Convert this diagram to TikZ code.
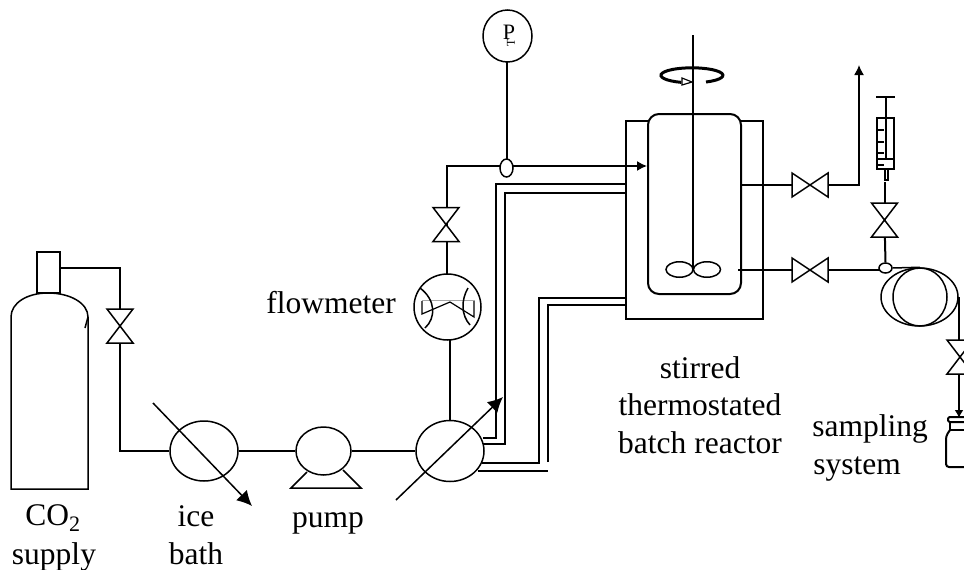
\documentclass[tikz,border=0pt]{standalone}
\usepackage{fontspec}
\setmainfont{Liberation Serif}
\usetikzlibrary{arrows.meta,positioning,calc,shapes.geometric}
\tikzset{
  pipe/.style={draw=black, line width=1.5pt},
  thickpipe/.style={draw=black, line width=2pt},
  flow/.style={-{Latex[length=10pt,width=10pt]}, line width=1.5pt, draw=black},
  bigflow/.style={-{Latex[length=15pt,width=15pt]}, line width=1.5pt, draw=black},
  unitcirc/.style={draw=black, line width=1.5pt, ellipse, inner sep=0pt, fill=white},
  blade/.style={draw=black, line width=1.5pt, ellipse, inner sep=0pt, minimum width=27pt, minimum height=15.5pt},
  lbl/.style={font=\fontsize{31.5}{37}\selectfont, anchor=base, inner sep=0pt}
}
\begin{document}
\begin{tikzpicture}[x=1pt,y=-1pt]
  \useasboundingbox (0,0) rectangle (964,570);
  % gas cylinder
  \node[draw, line width=1.5pt, minimum width=23pt, minimum height=41pt, inner sep=0pt] (neck) at (48.5,272.5) {};
  \draw[pipe] (11,489) -- (11,317) .. controls (11,303) and (27,293) .. (48,293) .. controls (70,293) and (88,303) .. (88,317) -- (88,489) -- cycle;
  \draw[pipe] (88,317) -- (85,328);
  % units along the line
  \node[unitcirc, minimum width=68pt, minimum height=60pt] (ice) at (204,451) {};
  \node[unitcirc, minimum width=55pt, minimum height=48pt] (pump) at (323.5,451) {};
  \node[unitcirc, minimum width=68pt, minimum height=61pt] (heater) at (450,451) {};
  \node[unitcirc, minimum width=67pt, minimum height=66pt] (meter) at (447.5,307) {};
  \node[unitcirc, minimum width=49pt, minimum height=52pt] (gauge) at (507.5,36) {};
  \node[unitcirc, minimum width=13pt, minimum height=18pt] (tap) at (506.5,168) {};
  \node[font=\fontsize{22}{22}\selectfont, inner sep=0pt] (gaugelabel) at (509,32) {P};
  \node[font=\fontsize{12}{12}\selectfont, inner sep=0pt, rotate=90] (gaugemark) at (511,42.5) {T};
  % valves
  \coordinate (vone) at (120,326);
  \coordinate (vtwo) at (446,224.5);
  \coordinate (vthree) at (810,185);
  \coordinate (vfour) at (810,270);
  \coordinate (vfive) at (884.5,220);
  \coordinate (vsix) at (960,357);
  % pipes
  \coordinate (tee) at (120,268);
  \draw[pipe] (neck.east |- tee) -- (tee) -- (vone);
  \draw[pipe] (vone) -- (120,451) -- (ice.west);
  \draw[pipe] (ice.east) -- (pump.west);
  \draw[pipe] (pump.east) -- (heater.west);
  \draw[pipe] (450,421) -- (450,340);
  \draw[pipe] (447,274) -- (447,224);
  \draw[pipe] (447,224) -- (447,166) -- (500,166);
  \draw[pipe] (507,62) -- (507,159);
  \draw[flow] (513,166) -- (647,166);
  % heating jacket lines
  \draw[pipe] (483,438) -- (496,438) -- (496,184) -- (625,184);
  \draw[pipe] (483,444) -- (505,444) -- (505,193) -- (625,193);
  \draw[pipe] (482,463) -- (539,463) -- (539,298) -- (626,298);
  \draw[pipe] (478,471) -- (548,471) (548,462) -- (548,305) -- (625,305);
  % arrows through the exchangers
  \draw[bigflow] (153,403) -- (252,506);
  \draw[bigflow] (396,500) -- (503,397);
  % pump feet
  \draw[pipe] (307,472) -- (291,488) -- (361,488) -- (343,470);
  % flowmeter inside
  \draw[line width=0.5pt, draw=black!35] (422,300.7) -- (475,300.7);
  \draw[line width=1.2pt] (422,301) -- (422,314) -- (450,302) -- (474,317) -- (474,301);
  \draw[pipe] (420,288) .. controls (436,300) and (436,318) .. (425,328);
  \draw[pipe] (468,288) .. controls (461,300) and (461,315) .. (470,325);
  % reactor jacket and vessel
  \draw[thickpipe] (648,121) -- (626,121) -- (626,319) -- (763,319) -- (763,121) -- (741,121);
  \draw[thickpipe, rounded corners=11pt] (648,114) rectangle (741,294);
  % stirrer
  \draw[line width=2.2pt] (693,35) -- (693,269);
  \node[blade] (bladel) at (679.5,269.5) {};
  \node[blade] (blader) at (707,269.5) {};
  \draw[line width=3pt] (706,82) arc[start angle=63, end angle=-250, x radius=31, y radius=7.5];
  \draw[line width=1.2pt, fill=white] (682,78) -- (692,82) -- (682,85) -- cycle;
  % outlet lines
  \draw[pipe] (741,185) -- (vthree);
  \draw[flow] (vthree) -- (859,185) -- (859,65);
  \draw[pipe] (738,270) -- (vfour);
  \draw[pipe] (vfour) -- (880,270);
  % sampling coil
  \node[draw, line width=1.5pt, ellipse, minimum width=54pt, minimum height=58pt, inner sep=0pt] (coilin) at (920,297) {};
  \node[draw, line width=1.5pt, ellipse, minimum width=77pt, minimum height=58pt, inner sep=0pt] (coilout) at (919.5,297) {};
  \node[unitcirc, minimum width=13pt, minimum height=10pt] (port) at (885.5,268) {};
  \draw[pipe] (port.east) -- (coilin.north);
  \draw[thickpipe] (959,297) -- (959,340);
  \draw[-{Latex[length=8pt,width=9pt]}, line width=2pt] (959,374) -- (959,418);
  \draw[thickpipe] (port.north) -- (vfive);
  \draw[thickpipe] (vfive) -- (884.5,182);
  % syringe
  \draw[line width=2.5pt] (886,97) -- (886,158);
  \draw[line width=2.5pt] (876,97) -- (895,97);
  \draw[pipe] (877,118) rectangle (894,169);
  \draw[thickpipe] (877,159) -- (894,159);
  \foreach \yy in {130,142,153,165} \draw[line width=1.3pt] (877,\yy) -- (884,\yy);
  \draw[pipe] (885,169) rectangle (888,180);
  % bottle
  \draw[thickpipe, rounded corners=1.5pt] (964,417) -- (948,417) -- (948,422) -- (964,422);
  \draw[thickpipe] (950,422) -- (950,430) -- (964,430);
  \draw[thickpipe, rounded corners=3pt] (950,430) -- (946,436) -- (946,467) -- (964,467);
  % valves
  \foreach \vname in {vone,vtwo,vfive,vsix} {
    \draw[pipe, fill=white] ($(\vname)+(-13,-17)$) -- ($(\vname)+(13,-17)$) -- ($(\vname)+(-13,17)$) -- ($(\vname)+(13,17)$) -- cycle;
  }
  \foreach \vname in {vthree,vfour} {
    \draw[pipe, fill=white] ($(\vname)+(-18,-12)$) -- ($(\vname)+(18,12)$) -- ($(\vname)+(18,-12)$) -- ($(\vname)+(-18,12)$) -- cycle;
  }
  % labels
  \node[lbl] (lblco) at (53,525) {CO\textsubscript{2}};
  \node[lbl] (lblsupply) at (54,564) {supply};
  \node[lbl] (lblice) at (196,526) {ice};
  \node[lbl] (lblbath) at (196,564) {bath};
  \node[lbl] (lblpump) at (328,527) {pump};
  \node[lbl] (lblflow) at (331,313) {flowmeter};
  \node[lbl] (lblstirred) at (700,378) {stirred};
  \node[lbl] (lblthermo) at (700,415) {thermostated};
  \node[lbl] (lblbatch) at (700,453) {batch reactor};
  \node[lbl] (lblsampling) at (870,436) {sampling};
  \node[lbl] (lblsystem) at (857,474) {system};
\end{tikzpicture}
\end{document}
